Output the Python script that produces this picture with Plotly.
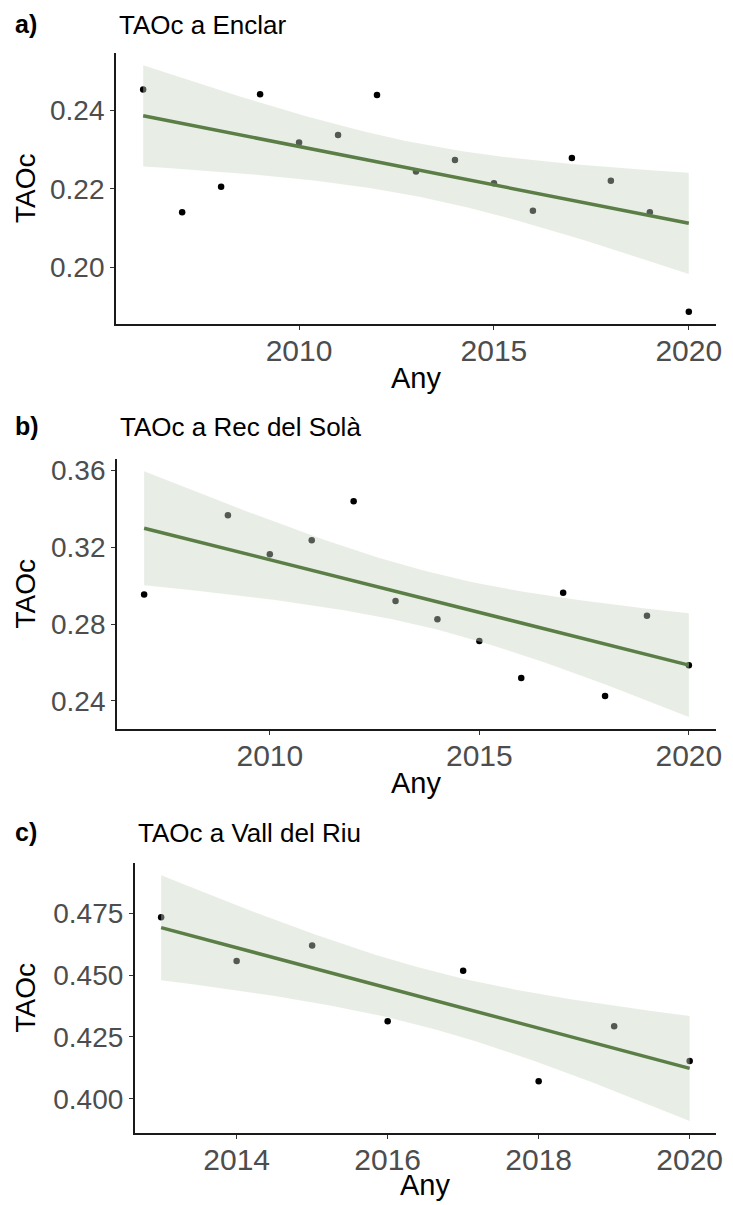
import numpy as np
import plotly.graph_objects as go
from math import gamma, sqrt, pi

# ---------------- data ----------------
years_a = [2006, 2007, 2008, 2009, 2010, 2011, 2012, 2013, 2014, 2015, 2016, 2017, 2018, 2019, 2020]
taoc_a = [0.2453, 0.2140, 0.2205, 0.2441, 0.2318, 0.2337, 0.2439, 0.2244, 0.2273, 0.2214,
          0.2144, 0.2278, 0.2220, 0.2140, 0.1886]

years_b = [2007, 2009, 2010, 2011, 2012, 2013, 2014, 2015, 2016, 2017, 2018, 2019, 2020]
taoc_b = [0.2955, 0.3368, 0.3165, 0.3237, 0.3440, 0.2921, 0.2826, 0.2713, 0.2520, 0.2964,
          0.2426, 0.2844, 0.2586]

years_c = [2013, 2014, 2015, 2016, 2017, 2018, 2019, 2020]
taoc_c = [0.4734, 0.4557, 0.4619, 0.4313, 0.4517, 0.4071, 0.4293, 0.4153]

titles = ["TAOc a Enclar", "TAOc a Rec del Solà", "TAOc a Vall del Riu"]
letters = ["a)", "b)", "c)"]
xtick_a = [2010, 2015, 2020]
ytick_a = [0.20, 0.22, 0.24]
xtick_b = [2010, 2015, 2020]
ytick_b = [0.24, 0.28, 0.32, 0.36]
xtick_c = [2014, 2016, 2018, 2020]
ytick_c = [0.400, 0.425, 0.450, 0.475]

# ---------------- styling / layout ----------------
W, H = 733, 1205
FONT = "Liberation Sans, Arial, sans-serif"
LINE_COL = "#5B7D46"
RIBBON_COL = "rgba(200,214,196,0.42)"

# panel boxes in pixels: left, right, top, bottom
boxes = [(117, 723, 50, 322), (118, 723, 457, 728), (136, 723, 862, 1133)]
title_tops = [5, 408, 815]
xtitle_offsets = [36, 36, 34]
yfmt = [".2f", ".2f", ".3f"]


def t_ppf(p, df):
    c = gamma((df + 1) / 2) / (sqrt(df * pi) * gamma(df / 2))

    def cdf(t):
        xs = np.linspace(0, t, 2001)
        pdf = c * (1 + xs ** 2 / df) ** (-(df + 1) / 2)
        return 0.5 + np.trapezoid(pdf, xs)

    lo, hi = 0.0, 20.0
    for _ in range(60):
        mid = (lo + hi) / 2
        if cdf(mid) < p:
            lo = mid
        else:
            hi = mid
    return (lo + hi) / 2


def lm_fit(x, y, n=80):
    x = np.asarray(x, float)
    y = np.asarray(y, float)
    N = len(x)
    xm = x.mean()
    sxx = ((x - xm) ** 2).sum()
    b = ((x - xm) * (y - y.mean())).sum() / sxx
    a = y.mean() - b * xm
    res = y - (a + b * x)
    s = sqrt((res ** 2).sum() / (N - 2))
    tq = t_ppf(0.975, N - 2)
    xs = np.linspace(x.min(), x.max(), n)
    fit = a + b * xs
    se = s * np.sqrt(1 / N + (xs - xm) ** 2 / sxx)
    return xs, fit, fit - tq * se, fit + tq * se


def px_x(p):
    return p / W


def px_y(p):
    return 1 - p / H


fig = go.Figure()
datasets = [(years_a, taoc_a, xtick_a, ytick_a),
            (years_b, taoc_b, xtick_b, ytick_b),
            (years_c, taoc_c, xtick_c, ytick_c)]

annotations = []
for i, (xv, yv, xt, yt) in enumerate(datasets):
    k = "" if i == 0 else str(i + 1)
    xa, ya = "x" + k, "y" + k
    xs, fit, lo, hi = lm_fit(xv, yv)

    fig.add_trace(go.Scatter(x=xv, y=yv, mode="markers", xaxis=xa, yaxis=ya,
                             marker=dict(color="black", size=6.5), showlegend=False,
                             hoverinfo="skip"))
    fig.add_trace(go.Scatter(x=np.concatenate([xs, xs[::-1]]),
                             y=np.concatenate([hi, lo[::-1]]),
                             fill="toself", fillcolor=RIBBON_COL, mode="lines",
                             line=dict(width=0, color="rgba(0,0,0,0)"),
                             xaxis=xa, yaxis=ya, showlegend=False, hoverinfo="skip"))
    fig.add_trace(go.Scatter(x=xs, y=fit, mode="lines", xaxis=xa, yaxis=ya,
                             line=dict(color=LINE_COL, width=3.5), showlegend=False,
                             hoverinfo="skip"))

    xmin, xmax = min(xv), max(xv)
    dx = (xmax - xmin) * 0.05
    ymin = min(min(yv), lo.min())
    ymax = max(max(yv), hi.max())
    dy = (ymax - ymin) * 0.05

    L, R, T, B = boxes[i]
    axis_common = dict(showline=True, linecolor="#1a1a1a", linewidth=1.6,
                       ticks="outside", ticklen=4, tickwidth=1.2, tickcolor="#333333",
                       showgrid=False, zeroline=False)
    fig.layout["xaxis" + k] = dict(
        domain=[px_x(L), px_x(R)], anchor=ya, range=[xmin - dx, xmax + dx],
        tickvals=xt, tickformat="d", ticklabelstandoff=-5,
        tickfont=dict(family=FONT, size=30, color="#4D4D4D"), **axis_common)
    fig.layout["yaxis" + k] = dict(
        domain=[px_y(B), px_y(T)], anchor=xa, range=[ymin - dy, ymax + dy],
        tickvals=yt, tickformat=yfmt[i],
        tickfont=dict(family=FONT, size=28, color="#4D4D4D"), **axis_common)

    # panel letter
    annotations.append(dict(text="<b>" + letters[i] + "</b>", x=px_x(13), y=px_y(title_tops[i]),
                            xref="paper", yref="paper", xanchor="left", yanchor="top",
                            showarrow=False, font=dict(family=FONT, size=25, color="black")))
    # panel title
    annotations.append(dict(text=titles[i], x=px_x(L + 1), y=px_y(title_tops[i]),
                            xref="paper", yref="paper", xanchor="left", yanchor="top",
                            showarrow=False, font=dict(family=FONT, size=26, color="black")))
    # x title
    annotations.append(dict(text="Any", x=px_x((L + R) / 2), y=px_y(B + xtitle_offsets[i]),
                            xref="paper", yref="paper", xanchor="center", yanchor="top",
                            showarrow=False, font=dict(family=FONT, size=29, color="black")))
    # y title
    annotations.append(dict(text="TAOc", x=px_x(8), y=px_y((T + B) / 2),
                            xref="paper", yref="paper", xanchor="left", yanchor="middle",
                            textangle=-90, showarrow=False,
                            font=dict(family=FONT, size=28, color="black")))

fig.update_layout(width=W, height=H, margin=dict(l=0, r=0, t=0, b=0),
                  paper_bgcolor="white", plot_bgcolor="white",
                  annotations=annotations, showlegend=False)

fig.write_html("out.html")
